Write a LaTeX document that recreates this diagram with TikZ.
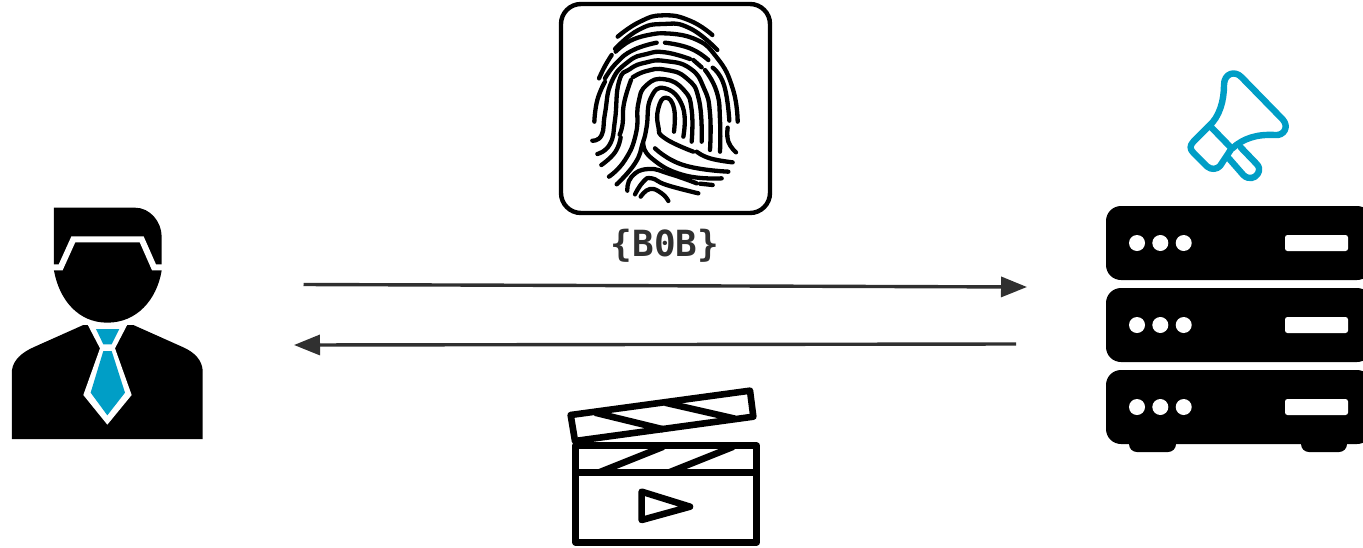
\documentclass[tikz,border=0pt]{standalone}
\usepackage{fontspec}
\newfontfamily\labelmono[Scale=1]{DejaVu Sans Mono}
\usetikzlibrary{arrows.meta}
\definecolor{accent}{RGB}{0,158,198}
\definecolor{ink}{RGB}{48,48,48}
\tikzset{
  ridge/.style={line width=4.3pt,line cap=round,line join=round,black},
  flow/.style={line width=3.4pt,ink,-{Triangle[length=26pt,width=20pt]}},
  cloth/.style={line width=6.6pt,line join=round,line cap=round,black},
  stripe/.style={line width=6.6pt,line cap=butt,black},
  horn/.style={line width=6.4pt,line join=round,line cap=round,accent},
  rack/.style={fill=black,rounded corners=15pt},
  dotw/.style={fill=white,circle,inner sep=0pt,minimum size=16pt},
  barw/.style={fill=white,rounded corners=2.5pt}
}
\newcommand{\rid}[1]{\draw[ridge] plot[smooth,tension=0.85] coordinates {#1};}
\begin{document}
\begin{tikzpicture}[x=1pt,y=-1pt]
\useasboundingbox (0,0) rectangle (1363,547);

% fingerprint card
\draw[line width=4.4pt,rounded corners=20pt] (561,4) rectangle (770,213);
\begin{scope}[shift={(550,0)},x=0.33333pt,y=-0.33333pt]
\rid{(203,110)(270,65)(340,46)(420,62)(487,105)}
\rid{(195,147)(265,90)(340,72)(420,85)(502,150)}
\rid{(147,235)(165,198)(185,165)}
\rid{(197,155)(250,118)(325,100)}
\rid{(330,100)(430,115)(500,172)(548,265)(563,365)}
\rid{(165,235)(200,188)(250,150)(320,128)}
\rid{(345,128)(420,145)(475,180)}
\rid{(165,245)(142,300)(133,365)}
\rid{(127,422)(155,405)(165,340)(185,245)(235,185)(290,162)(345,157)(420,177)}
\rid{(430,180)(455,202)}
\rid{(488,203)(522,255)(538,362)}
\rid{(465,210)(500,275)(510,360)(510,455)}
\rid{(533,383)(535,425)(558,457)}
\rid{(142,462)(180,432)(195,360)(207,245)(240,207)(290,187)(345,183)(420,205)(462,265)(480,340)(480,450)}
\rid{(243,240)(222,310)(218,370)(209,404)}
\rid{(154,495)(195,457)(212,412)}
\rid{(248,232)(290,213)(345,209)(410,235)(447,300)(455,425)}
\rid{(425,425)(425,330)(403,272)(345,238)(290,255)(265,310)(258,400)(225,480)(177,530)}
\rid{(400,410)(398,320)(345,265)(302,295)(290,380)(278,430)(255,490)(200,553)}
\rid{(280,430)(305,475)(400,525)(515,535)}
\rid{(372,395)(372,325)(347,293)(325,325)(325,380)(345,415)(430,455)}
\rid{(440,455)(480,475)(548,487)}
\rid{(315,445)(400,495)(535,515)}
\rid{(450,551)(488,555)}
\rid{(232,572)(245,530)(295,507)(360,522)(440,550)}
\rid{(255,583)(280,545)(305,535)(350,555)(445,580)}
\rid{(272,590)(300,567)(335,580)(355,603)}
\end{scope}
\node[font=\labelmono\bfseries\fontsize{36}{36}\selectfont,text=ink,inner sep=0pt] (label) at (665,246) {\{B0B\}};

% person
\begin{scope}[x=0.33333pt,y=-0.33333pt,shift={(0,600)}]
\fill (162,23) -- (405,23) .. controls (450,23) and (485,65) .. (485,110) -- (485,212)
  .. controls (470,300) and (410,368) .. (322,368) .. controls (235,368) and (178,300) .. (162,212) -- cycle;
\draw[white,line width=6pt,line join=miter] (150,202) -- (182,202) -- (220,118) -- (425,118) -- (462,202) -- (495,202);
\fill (36,717) -- (36,510) .. controls (40,480) and (65,458) .. (100,442) -- (250,375)
  -- (400,375) -- (550,442) .. controls (585,458) and (605,480) .. (608,510) -- (608,717) -- cycle;
\fill[white] (262,372) -- (383,372) -- (345,445) -- (395,585) -- (322,674) -- (250,585) -- (300,445) -- cycle;
\fill[accent] (288,387) -- (358,387) -- (335,433) -- (310,433) -- cycle;
\fill[accent] (310,453) -- (335,453) -- (375,578) -- (322,646) -- (272,578) -- cycle;
\end{scope}

% arrows
\coordinate (upA) at (303.5,284.5);
\coordinate (upB) at (1027,287);
\coordinate (downA) at (1016,344);
\coordinate (downB) at (294,345);
\draw[flow] (upA) -- (upB);
\draw[flow] (downA) -- (downB);

% clapperboard
\begin{scope}[shift={(560,380)},x=0.33333pt,y=-0.33333pt]
\begin{scope}
\clip (47,197) rectangle (590,278);
\draw[stripe] (100,284) -- (310,200);
\draw[stripe] (310,284) -- (520,200);
\end{scope}
\draw[cloth] (47,197) rectangle (590,487);
\draw[cloth] (47,278) -- (590,278);
\draw[stripe] (105,98) -- (310,148);
\draw[stripe] (315,68) -- (525,116);
\draw[cloth] (32,105) -- (570,32) -- (580,110) -- (45,183) -- cycle;
\draw[cloth] (245,335) -- (390,380) -- (245,420) -- cycle;
\end{scope}

% megaphone and server
\begin{scope}[shift={(1100,60)},x=0.33333pt,y=-0.33333pt]
\draw[horn] (325,200) .. controls (360,170) and (372,120) .. (372,75)
  .. controls (372,40) and (405,30) .. (425,52) -- (548,178)
  .. controls (568,200) and (552,228) .. (525,225)
  .. controls (470,222) and (430,235) .. (397,265);
\draw[horn] (330,198) -- (392,262);
\draw[horn] (325,200) -- (280,245) .. controls (268,258) and (270,268) .. (280,278)
  -- (322,320) .. controls (335,330) and (350,328) .. (360,318) -- (393,268);
\draw[horn] (382,290) -- (430,345) .. controls (445,360) and (465,355) .. (473,342)
  .. controls (480,330) and (478,320) .. (470,312) -- (422,262);
\end{scope}
\fill[rack,rounded corners=8pt] (1129,430) rectangle (1176,452);
\fill[rack,rounded corners=8pt] (1301,430) rectangle (1347,452);
\foreach \y/\n in {206/a,288/b,370/c}{
  \fill[rack] (1106,\y) rectangle (1372,\y+74);
  \node[dotw] (d1\n) at (1137,\y+37) {};
  \node[dotw] (d2\n) at (1160.3,\y+37) {};
  \node[dotw] (d3\n) at (1183.7,\y+37) {};
  \fill[barw] (1285,\y+29) rectangle (1348,\y+45);
}
\end{tikzpicture}
\end{document}
